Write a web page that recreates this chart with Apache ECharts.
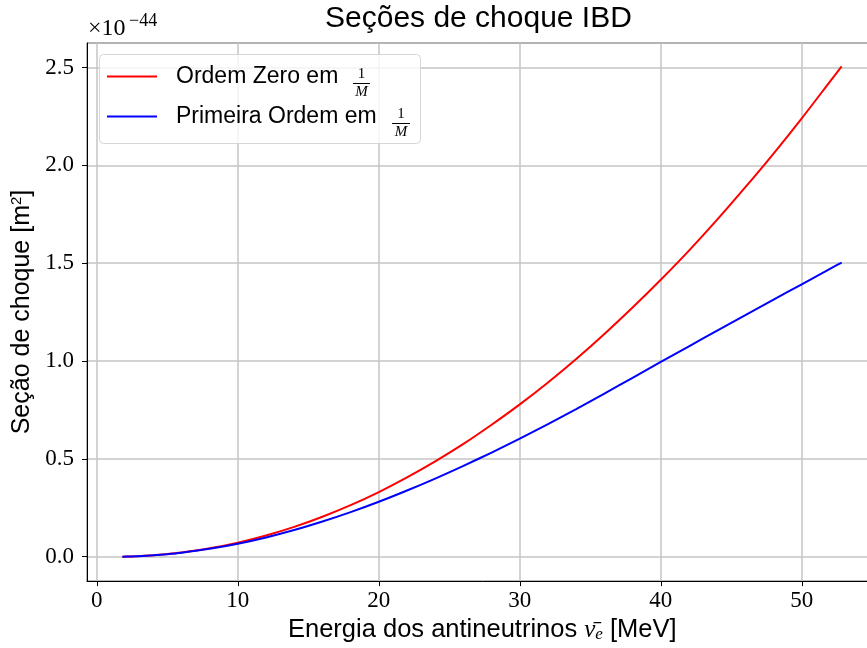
<!DOCTYPE html>
<html>
<head>
<meta charset="utf-8">
<script src="https://cdn.jsdelivr.net/npm/echarts@6/dist/echarts.min.js"></script>
<style>
  html, body { margin: 0; padding: 0; background: #fff; overflow: hidden; }
  #chart { width: 880px; height: 648px; }
</style>
</head>
<body>
<div id="chart"></div>
<script>
// energia do antineutrino [MeV]
var energia = [1.81, 2.5, 3, 4, 5, 6, 8, 10, 12, 14, 16, 18, 20, 22, 24, 26, 28, 30,
  32, 34, 36, 38, 40, 42, 44, 46, 48, 50, 52, 52.83]
// secoes de choque em unidades de 1e-44 m^2
var ordemZero = [0, 0.00125, 0.00263, 0.0068, 0.0129, 0.0208, 0.0424, 0.0714, 0.108, 0.152,
  0.204, 0.263, 0.330, 0.405, 0.487, 0.576, 0.674, 0.778, 0.890, 1.010, 1.138, 1.273,
  1.415, 1.564, 1.722, 1.888, 2.060, 2.240, 2.428, 2.506]
var primeiraOrdem = [0, 0.00123, 0.00257, 0.0066, 0.0124, 0.0199, 0.0399, 0.0660, 0.0983, 0.136,
  0.1795, 0.2275, 0.2805, 0.338, 0.399, 0.464, 0.532, 0.603, 0.677, 0.754, 0.833, 0.914,
  0.995, 1.075, 1.155, 1.234, 1.313, 1.392, 1.471, 1.503]
var xTicks = [0, 10, 20, 30, 40, 50]
var yTicks = [0, 0.5, 1.0, 1.5, 2.0, 2.5]

var serif = 'Liberation Serif'
var sans = 'Liberation Sans'

function pares(xs, ys) {
  return xs.map(function (x, i) { return [x, ys[i]] })
}
function temTick(lista, v) {
  return lista.some(function (t) { return Math.abs(t - v) < 1e-9 })
}

var chart = echarts.init(document.getElementById('chart'))
chart.setOption({
  animation: false,
  backgroundColor: '#fff',
  title: {
    text: 'Seções de choque IBD',
    left: 325,
    top: 4,
    padding: 0,
    textStyle: { fontFamily: sans, fontSize: 30, fontWeight: 'normal', color: '#000' }
  },
  grid: {
    left: 87,
    top: 43,
    width: 790.6,
    bottom: 66,
    show: true,
    borderColor: '#000',
    borderWidth: 1,
    backgroundColor: 'transparent'
  },
  legend: {
    orient: 'vertical',
    left: 99,
    top: 54,
    padding: [11, 8, 15, 8],
    itemWidth: 50,
    itemHeight: 2,
    itemGap: 17,
    icon: 'rect',
    selectedMode: false,
    textStyle: { fontFamily: sans, fontSize: 23, color: '#000', padding: [0, 0, 0, 14] },
    data: ['Ordem Zero em', 'Primeira Ordem em']
  },
  xAxis: {
    type: 'value',
    min: -0.7,
    max: 55.38,
    splitNumber: 5,
    name: 'Energia dos antineutrinos {nu|ν̄}{e|e} [MeV]',
    nameLocation: 'middle',
    nameGap: 35,
    nameTextStyle: {
      fontFamily: sans, fontSize: 25.5, color: '#000',
      rich: {
        nu: { fontFamily: serif, fontStyle: 'italic', fontSize: 25, color: '#000' },
        e: { fontFamily: serif, fontStyle: 'italic', fontSize: 17, lineHeight: 16, verticalAlign: 'bottom', color: '#000' }
      }
    },
    axisLine: { show: true, onZero: false, lineStyle: { color: '#000', width: 1 } },
    axisTick: { show: true, inside: false, length: 5, lineStyle: { color: '#000' } },
    axisLabel: {
      margin: 8,
      fontFamily: serif,
      fontSize: 23,
      color: '#000',
      showMinLabel: false,
      showMaxLabel: false,
      formatter: function (v) { return temTick(xTicks, v) ? String(Math.round(v)) : '' }
    },
    splitLine: { show: true, lineStyle: { color: '#c4c4c4', width: 1.5 } }
  },
  yAxis: {
    type: 'value',
    min: -0.125,
    max: 2.625,
    splitNumber: 5,
    name: 'Seção de choque [m{sup|2}]',
    nameLocation: 'middle',
    nameGap: 50,
    nameTextStyle: {
      fontFamily: sans, fontSize: 25, color: '#000',
      rich: {
        sup: { fontFamily: sans, fontSize: 15, verticalAlign: 'top', lineHeight: 24, color: '#000' }
      }
    },
    axisLine: { show: true, onZero: false, lineStyle: { color: '#000', width: 1 } },
    axisTick: { show: true, inside: false, length: 5, lineStyle: { color: '#000' } },
    axisLabel: {
      margin: 13,
      fontFamily: serif,
      fontSize: 23,
      color: '#000',
      showMinLabel: false,
      showMaxLabel: false,
      formatter: function (v) { return temTick(yTicks, v) ? v.toFixed(1) : '' }
    },
    splitLine: { show: true, lineStyle: { color: '#c4c4c4', width: 1.5 } }
  },
  graphic: [
    {
      type: 'rect',
      z: 3,
      shape: { x: 99.5, y: 54.5, width: 321, height: 89, r: 4 },
      style: { fill: 'rgba(255,255,255,0.8)', stroke: '#d6d6d6', lineWidth: 1 }
    },
    // fracoes 1/M da legenda
    { type: 'text', z: 6, style: { text: '1', x: 361.5, y: 74, align: 'center', verticalAlign: 'middle', font: '15px "Liberation Serif"', fill: '#000' } },
    { type: 'line', z: 6, shape: { x1: 353, y1: 83.5, x2: 370, y2: 83.5 }, style: { stroke: '#000', lineWidth: 1 } },
    { type: 'text', z: 6, style: { text: 'M', x: 361.5, y: 92, align: 'center', verticalAlign: 'middle', font: 'italic 15px "Liberation Serif"', fill: '#000' } },
    { type: 'text', z: 6, style: { text: '1', x: 401, y: 114, align: 'center', verticalAlign: 'middle', font: '15px "Liberation Serif"', fill: '#000' } },
    { type: 'line', z: 6, shape: { x1: 392, y1: 123.5, x2: 410, y2: 123.5 }, style: { stroke: '#000', lineWidth: 1 } },
    { type: 'text', z: 6, style: { text: 'M', x: 401, y: 132, align: 'center', verticalAlign: 'middle', font: 'italic 15px "Liberation Serif"', fill: '#000' } },
    // fator de escala do eixo y
    { type: 'text', z: 6, style: { text: '×10', x: 88, y: 29, verticalAlign: 'middle', font: '24px "Liberation Serif"', fill: '#000' } },
    { type: 'text', z: 6, style: { text: '−44', x: 129, y: 21, verticalAlign: 'middle', font: '18px "Liberation Serif"', fill: '#000' } }
  ],
  series: [
    {
      name: 'Ordem Zero em',
      type: 'line',
      data: pares(energia, ordemZero),
      showSymbol: false,
      smooth: 0.25,
      color: '#ff0000',
      lineStyle: { color: '#ff0000', width: 2 },
      z: 2
    },
    {
      name: 'Primeira Ordem em',
      type: 'line',
      data: pares(energia, primeiraOrdem),
      showSymbol: false,
      smooth: 0.25,
      color: '#0000ff',
      lineStyle: { color: '#0000ff', width: 2 },
      z: 2
    }
  ]
})
</script>
</body>
</html>
